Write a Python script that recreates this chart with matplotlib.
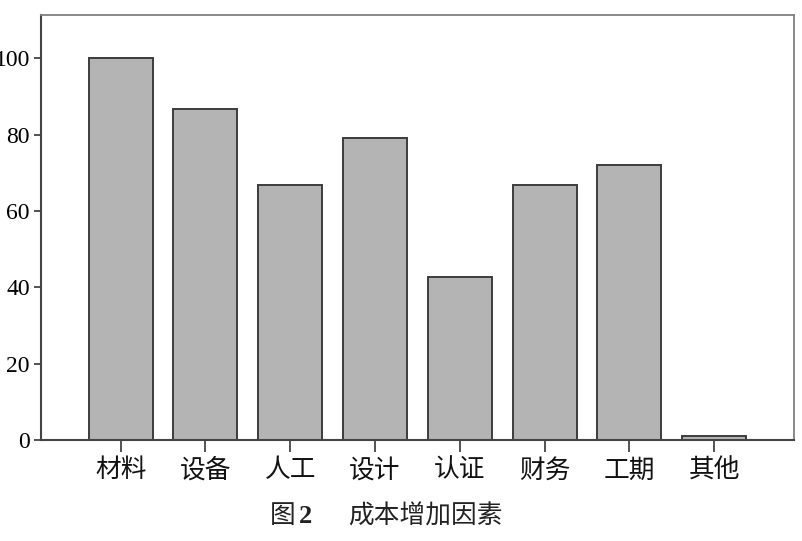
import matplotlib.pyplot as plt

plt.rcParams['font.family'] = ['Noto Sans CJK SC', 'DejaVu Sans']

# Data
factors = ["材料", "设备", "人工", "设计", "认证", "财务", "工期", "其他"]
values = [100, 86.6, 66.7, 79.2, 42.7, 66.7, 72.1, 1.1]
yticks = [0, 20, 40, 60, 80, 100]

fig = plt.figure(figsize=(8.02, 5.41), dpi=100)
ax = fig.add_axes([0.0511, 0.1867, 0.9389, 0.7856])

ax.bar(range(len(factors)), values, width=0.755, color="#b4b4b4",
       edgecolor="#3c3c3c", linewidth=1.4)

ax.set_xlim(-0.94, len(factors) - 1 + 0.94)
ax.set_ylim(0, 111.3)
ax.set_yticks(yticks)
ax.set_yticklabels([str(v) for v in yticks], family="Liberation Serif", fontsize=17)
ax.set_xticks(range(len(factors)))
ax.set_xticklabels(factors, fontsize=18.5, color="#111111")

ax.tick_params(axis="y", length=5, width=1.3, pad=3, color="#444444")
ax.tick_params(axis="x", length=8.5, width=1.3, pad=4, color="#444444")

for side in ["left", "bottom"]:
    ax.spines[side].set_color("#444444")
    ax.spines[side].set_linewidth(1.5)
for side in ["top", "right"]:
    ax.spines[side].set_color("#808080")
    ax.spines[side].set_linewidth(1.3)

# caption
cap_y = 0.046
fig.text(0.337, cap_y, "图", fontsize=18.5, color="#222222", va="center")
fig.text(0.373, cap_y, "2", family="Liberation Serif", fontweight="bold",
         fontsize=19, color="#222222", va="center")
fig.text(0.434, cap_y, "成本增加因素", fontsize=18.5, color="#222222", va="center")

fig.savefig("out.png", dpi=100)
